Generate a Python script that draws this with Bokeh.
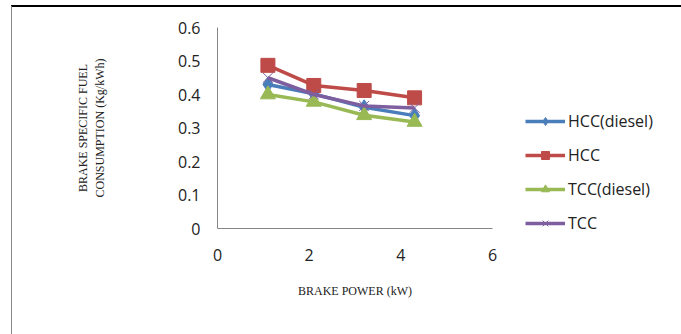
from bokeh.plotting import figure
from bokeh.models import Legend, LegendItem, Range1d, FixedTicker
from bokeh.embed import file_html
from bokeh.resources import INLINE

# Data
brake_power = [1.1, 2.1, 3.2, 4.3]
hcc_diesel = [0.430, 0.402, 0.362, 0.337]
hcc = [0.487, 0.427, 0.412, 0.390]
tcc_diesel = [0.400, 0.378, 0.338, 0.318]
tcc = [0.450, 0.400, 0.366, 0.360]
x_ticks = [0, 2, 4, 6]
y_ticks = [0, 0.1, 0.2, 0.3, 0.4, 0.5, 0.6]

p = figure(frame_width=275, frame_height=201, output_backend="svg", toolbar_location=None,
           x_range=Range1d(0, 6), y_range=Range1d(0, 0.6),
           min_border_left=205, min_border_right=185, min_border_top=20, min_border_bottom=106)
p.margin = (5, 0, 0, 11)
p.styles = {"border-top": "2px solid #000000", "border-left": "1px solid #8a8a8a",
            "border-right": "2px solid #8a8a8a"}
p.outline_line_color = None
p.xgrid.grid_line_color = None
p.ygrid.grid_line_color = None
p.background_fill_color = "white"
p.border_fill_color = "white"

for ax in (p.xaxis[0], p.yaxis[0]):
    ax.axis_line_color = "#868686"
    ax.axis_line_width = 1
    ax.major_tick_line_color = None
    ax.minor_tick_line_color = None
    ax.major_tick_out = 0
    ax.major_tick_in = 0
    ax.major_label_text_font = "Open Sans"
    ax.major_label_text_font_size = "16px"
    ax.major_label_text_color = "#222222"
    ax.axis_label_text_font = "Liberation Serif"
    ax.axis_label_text_font_size = "12px"
    ax.axis_label_text_font_style = "normal"
    ax.axis_label_text_color = "#222222"

p.xaxis[0].ticker = FixedTicker(ticks=x_ticks)
p.yaxis[0].ticker = FixedTicker(ticks=y_ticks)
p.yaxis[0].major_label_overrides = {0: "0"}
p.xaxis[0].major_label_standoff = 20
p.yaxis[0].major_label_standoff = 17
p.xaxis[0].axis_label = "BRAKE POWER (kW)"
p.xaxis[0].axis_label_standoff = 20
p.yaxis[0].axis_label = "BRAKE SPECIFIC FUEL\nCONSUMPTION (Kg/kWh)"
p.yaxis[0].axis_label_standoff = 68

series = [
    ("HCC(diesel)", hcc_diesel, "#4A7EBB", "diamond", 15),
    ("HCC", hcc, "#BE4B48", "square", 14),
    ("TCC(diesel)", tcc_diesel, "#98B954", "triangle", 15),
    ("TCC", tcc, "#7D5FA0", "x", 14),
]
items = []
for name, vals, col, mk, sz in series:
    r1 = p.line(brake_power, vals, line_color=col, line_width=3.5)
    if mk == "x":
        r2 = p.scatter(brake_power, vals, marker=mk, size=sz, line_color=col, line_width=1)
    else:
        r2 = p.scatter(brake_power, vals, marker=mk, size=sz, fill_color=col, line_color=col)
    items.append(LegendItem(label=name, renderers=[r1, r2]))

legend = Legend(items=items, location=(33, -6), glyph_width=40, glyph_height=20,
                label_height=20, spacing=12, label_standoff=3, padding=0, margin=0,
                border_line_alpha=0, background_fill_alpha=0,
                label_text_font="Open Sans", label_text_font_size="16px",
                label_text_color="#222222")
p.add_layout(legend, "right")

open("out.html", "w").write(file_html(p, INLINE))
